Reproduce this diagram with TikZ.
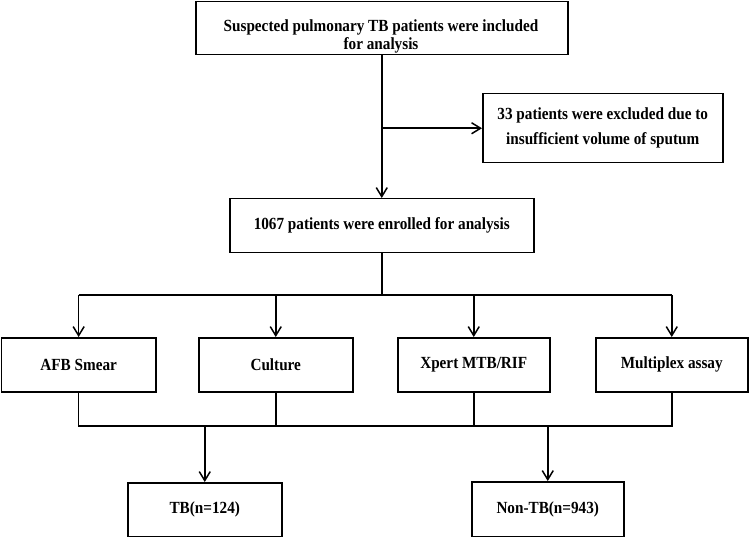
\documentclass[tikz,border=0pt]{standalone}
\usepackage{fontspec}
\setmainfont{Liberation Serif}[FakeStretch=0.895]
\usetikzlibrary{arrows.meta}
\tikzset{
  box/.style={draw, line width=1.5pt, inner sep=0pt, anchor=north west, align=center,
    font=\fontsize{17}{18.5}\selectfont\bfseries},
  lbl/.style={inner sep=0pt, align=center, font=\fontsize{17}{18.5}\selectfont\bfseries},
  conn/.style={line width=1.5pt},
  arr/.style={line width=1.5pt, -{Straight Barb[length=9pt,width=11pt,line width=1.5pt]}}
}
\begin{document}
\begin{tikzpicture}[x=1pt,y=-1pt]
\useasboundingbox (0,0) rectangle (749,537);
% boxes
\node[box, minimum width=372pt, minimum height=53pt] (top) at (195,1) {};
\node[lbl] (toptext) at (381,36.5) {Suspected pulmonary TB patients were included\\for analysis};
\node[box, minimum width=240pt, minimum height=69pt, font=\fontsize{17}{25}\selectfont\bfseries] (excl) at (482,93) {33 patients were excluded due to\\insufficient volume of sputum};
\node[box, minimum width=304pt, minimum height=54pt] (mid) at (229,198) {1067 patients were enrolled for analysis};
\node[box, minimum width=154.2pt, minimum height=54pt] (afb) at (0.8,337) {AFB Smear};
\node[box, minimum width=154pt, minimum height=54pt] (cult) at (198,337) {Culture};
\node[box, minimum width=152pt, minimum height=54pt] (xpert) at (397,337) {Xpert MTB/RIF};
\node[box, minimum width=152pt, minimum height=54pt] (multi) at (595,337) {Multiplex assay};
\node[box, minimum width=154pt, minimum height=54pt] (tb) at (127,482) {TB(n=124)};
\node[box, minimum width=152pt, minimum height=55pt] (ntb) at (471,481) {Non-TB(n=943)};
% helper coordinates
\coordinate (h1) at (0,295);
\coordinate (h2) at (0,426);
% connectors
\draw[arr] (top.south) -- (top.south |- mid.north);
\coordinate (br) at (top.south |- excl.west);
\draw[arr] (br) -- (excl.west);
\draw[conn] (mid.south) -- (mid.south |- h1);
\draw[conn] (afb.north |- h1) -- (multi.north |- h1);
\draw[arr] (afb.north |- h1) -- (afb.north);
\draw[arr] (cult.north |- h1) -- (cult.north);
\draw[arr] (xpert.north |- h1) -- (xpert.north);
\draw[arr] (multi.north |- h1) -- (multi.north);
\draw[conn] (afb.south) -- (afb.south |- h2) -- (multi.south |- h2) -- (multi.south);
\draw[conn] (cult.south) -- (cult.south |- h2);
\draw[conn] (xpert.south) -- (xpert.south |- h2);
\draw[arr] (tb.north |- h2) -- (tb.north);
\draw[arr] (ntb.north |- h2) -- (ntb.north);
\end{tikzpicture}
\end{document}
